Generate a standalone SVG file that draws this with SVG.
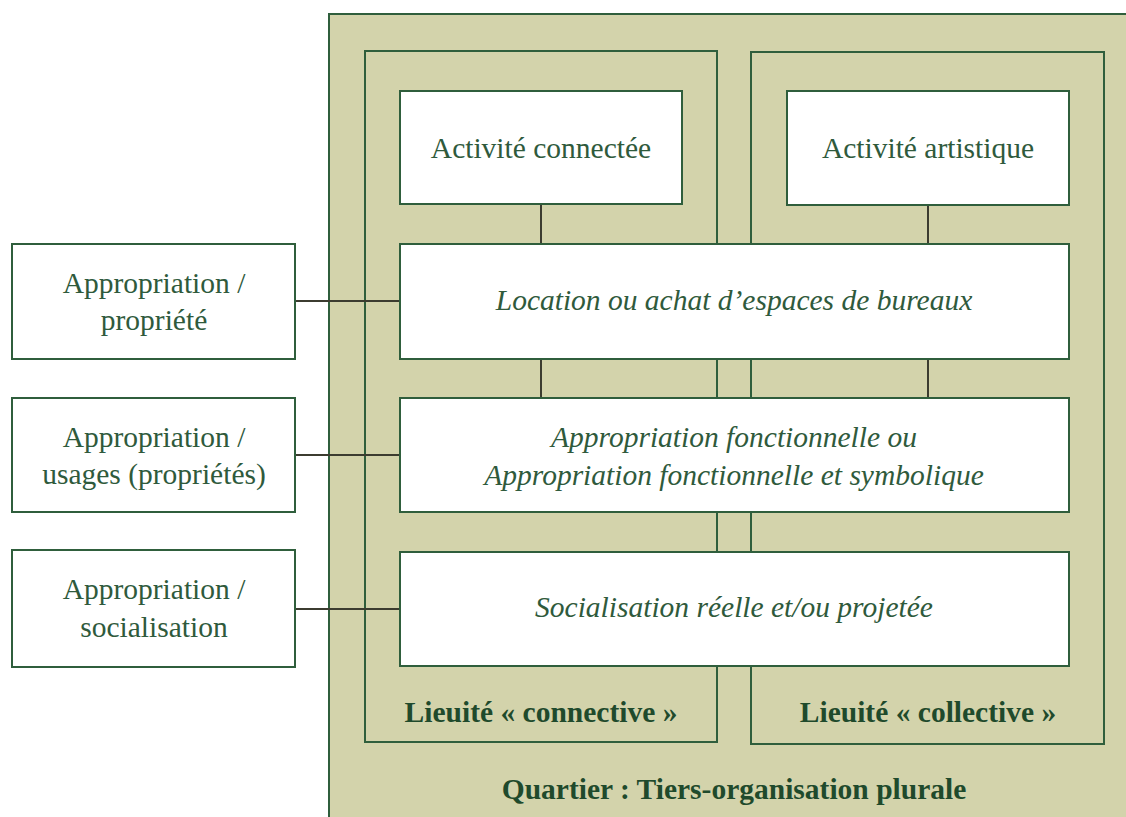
<svg xmlns="http://www.w3.org/2000/svg" width="1126" height="817" viewBox="0 0 1126 817">
<style>
.zone{fill:#d3d3ab;stroke:#2f5e3c;stroke-width:2}
.box{fill:#ffffff;stroke:#2f5e3c;stroke-width:2}
.t{font-family:'Liberation Serif','Times New Roman',serif;font-size:29.5px;fill:#2f5a3c;text-anchor:middle}
.i{font-style:italic}
.b{font-weight:bold;fill:#1f4a2c}
.c{stroke:#3c3c30;stroke-width:2;fill:none}
</style>
<rect width="1126" height="817" fill="#ffffff"/>
<g id="quartier">
<rect class="zone" x="329" y="14" width="800" height="804"/>
<text class="t b" x="734" y="799">Quartier : Tiers-organisation plurale</text>
</g>
<g id="lieuite-connective">
<rect class="zone" x="365" y="51" width="352" height="691"/>
<text class="t b" x="541" y="722">Lieuité « connective »</text>
</g>
<g id="lieuite-collective">
<rect class="zone" x="751" y="52" width="353" height="692"/>
<text class="t b" x="928" y="722">Lieuité « collective »</text>
</g>
<g id="connectors">
<line class="c" x1="541" y1="204" x2="541" y2="244"/>
<line class="c" x1="928" y1="205" x2="928" y2="244"/>
<line class="c" x1="541" y1="359" x2="541" y2="398"/>
<line class="c" x1="928" y1="359" x2="928" y2="398"/>
<line class="c" x1="295" y1="301" x2="400" y2="301"/>
<line class="c" x1="295" y1="455" x2="400" y2="455"/>
<line class="c" x1="295" y1="609" x2="400" y2="609"/>
</g>
<g id="activite-connectee">
<rect class="box" x="400" y="91" width="282" height="113"/>
<text class="t" x="541" y="158">Activité connectée</text>
</g>
<g id="activite-artistique">
<rect class="box" x="787" y="91" width="282" height="114"/>
<text class="t" x="928" y="158">Activité artistique</text>
</g>
<g id="location">
<rect class="box" x="400" y="244" width="669" height="115"/>
<text class="t i" x="734" y="310">Location ou achat d’espaces de bureaux</text>
</g>
<g id="appropriation-fonctionnelle">
<rect class="box" x="400" y="398" width="669" height="114"/>
<text class="t i" x="734" y="447">Appropriation fonctionnelle ou</text>
<text class="t i" x="734" y="485">Appropriation fonctionnelle et symbolique</text>
</g>
<g id="socialisation">
<rect class="box" x="400" y="552" width="669" height="114"/>
<text class="t i" x="734" y="617">Socialisation réelle et/ou projetée</text>
</g>
<g id="appropriation-propriete">
<rect class="box" x="12" y="244" width="283" height="115"/>
<text class="t" x="154" y="293">Appropriation /</text>
<text class="t" x="154" y="330">propriété</text>
</g>
<g id="appropriation-usages">
<rect class="box" x="12" y="398" width="283" height="114"/>
<text class="t" x="154" y="447">Appropriation /</text>
<text class="t" x="154" y="484">usages (propriétés)</text>
</g>
<g id="appropriation-socialisation">
<rect class="box" x="12" y="550" width="283" height="117"/>
<text class="t" x="154" y="599">Appropriation /</text>
<text class="t" x="154" y="637">socialisation</text>
</g>
</svg>
